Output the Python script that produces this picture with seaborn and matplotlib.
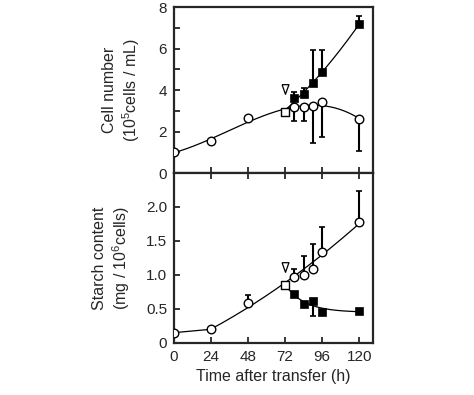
import numpy as np
import pandas as pd
import matplotlib
matplotlib.use("Agg")
import matplotlib.pyplot as plt
import seaborn as sns

# -------------------
# Data
hours = [0, 24, 48, 72, 78, 84, 90, 96, 120]

# Cell number (10^5 cells / mL), control (open circles; 72 h = open square)
cell_open = [1.0, 1.55, 2.65, 2.95, 3.17, 3.17, 3.25, 3.42, 2.6]
cell_open_err_lo = [0, 0, 0, 0, 0.65, 0.65, 1.82, 1.7, 1.52]

# Cell number after transfer (filled squares)
hours_fill = [78, 84, 90, 96, 120]
cell_fill = [3.6, 3.82, 4.35, 4.87, 7.18]
cell_fill_err_hi = [0.32, 0.26, 1.58, 1.06, 0.4]

# Starch content (mg / 10^6 cells)
starch_open = [0.15, 0.2, 0.59, 0.85, 0.97, 1.0, 1.08, 1.34, 1.78]
starch_open_err_hi = [0, 0, 0.11, 0, 0.11, 0.28, 0.38, 0.37, 0.46]
starch_fill = [0.72, 0.57, 0.61, 0.46, 0.47]
starch_fill_err_lo = [0, 0, 0.22, 0, 0]

transfer_time = 72
cell_arrow = 4.03
starch_arrow = 1.12

xticks = [0, 24, 48, 72, 96, 120]

# -------------------
# Fitted curves
t_all = np.linspace(0, 120, 300)
t_after = np.linspace(72, 120, 200)

c_open = np.polyval(np.polyfit(hours, cell_open, 3), t_all)
c_fill = np.polyval(np.polyfit([72] + hours_fill, [cell_open[3]] + cell_fill, 2), t_after)

# starch control: straight segment over the first day, then a weighted quadratic fit
t_seg1 = np.linspace(0, 24, 20)
t_seg2 = np.linspace(24, 120, 250)
s_seg1 = np.interp(t_seg1, hours[:2], starch_open[:2])
w = [10, 3, 3, 1, 1, 1, 1, 2]
s_seg2 = np.polyval(np.polyfit(hours[1:], starch_open[1:], 2, w=w), t_seg2)
t_s_open = np.concatenate([t_seg1, t_seg2[1:]])
s_open = np.concatenate([s_seg1, s_seg2[1:]])

# exponential decay to a plateau for starch after transfer
ts = np.array([72] + hours_fill, dtype=float)
ys = np.array([starch_open[3]] + starch_fill)
best = None
for k in np.linspace(0.01, 0.5, 200):
    A = np.column_stack([np.ones_like(ts), np.exp(-k * (ts - 72))])
    coef, res, *_ = np.linalg.lstsq(A, ys, rcond=None)
    err = np.sum((A @ coef - ys) ** 2)
    if best is None or err < best[0]:
        best = (err, k, coef)
_, k, coef = best
s_fill = coef[0] + coef[1] * np.exp(-k * (t_after - 72))

# -------------------
# Plot
sns.set_style("ticks")
plt.rcParams['font.family'] = ['Liberation Sans', 'DejaVu Sans']
plt.rcParams['font.size'] = 11
plt.rcParams['mathtext.fontset'] = 'custom'
plt.rcParams['mathtext.rm'] = 'Liberation Sans'

fig = plt.figure(figsize=(4.74, 3.95), dpi=100)
ax1 = fig.add_axes([0.367, 0.562, 0.42, 0.420])
ax2 = fig.add_axes([0.367, 0.132, 0.42, 0.430])

line_kw = dict(color="black", linewidth=0.9, legend=False, sort=False)
open_kw = dict(marker="o", s=38, facecolor="white", edgecolor="black", linewidth=1.0, zorder=4, legend=False)
fill_kw = dict(marker="s", s=36, color="black", edgecolor="black", zorder=4, legend=False)
sq_kw = dict(marker="s", s=32, facecolor="white", edgecolor="black", linewidth=1.0, zorder=4, legend=False)
tri_marker = [(-1, 1.4), (1, 1.4), (0, -1.4), (-1, 1.4)]
tri_kw = dict(marker=tri_marker, s=48, facecolor="white",
              edgecolor="black", linewidth=0.9, zorder=4, legend=False)

# top panel
sns.lineplot(x=t_all, y=c_open, ax=ax1, **line_kw)
sns.lineplot(x=t_after, y=c_fill, ax=ax1, **line_kw)
zero = [0] * len(hours)
ax1.errorbar(hours, cell_open, yerr=[cell_open_err_lo, zero], fmt="none",
             ecolor="black", elinewidth=1.5, capsize=2, capthick=1.2, zorder=3)
ax1.errorbar(hours_fill, cell_fill, yerr=[[0] * 5, cell_fill_err_hi], fmt="none",
             ecolor="black", elinewidth=1.5, capsize=2, capthick=1.2, zorder=3)
idx_c = [i for i in range(len(hours)) if hours[i] != transfer_time]
sns.scatterplot(x=[hours[i] for i in idx_c], y=[cell_open[i] for i in idx_c], ax=ax1, **open_kw)
sns.scatterplot(x=[transfer_time], y=[cell_open[3]], ax=ax1, **sq_kw)
sns.scatterplot(x=hours_fill, y=cell_fill, ax=ax1, **fill_kw)
sns.scatterplot(x=[transfer_time], y=[cell_arrow], ax=ax1, **tri_kw)

# bottom panel
sns.lineplot(x=t_s_open, y=s_open, ax=ax2, **line_kw)
sns.lineplot(x=t_after, y=s_fill, ax=ax2, **line_kw)
ax2.errorbar(hours, starch_open, yerr=[zero, starch_open_err_hi], fmt="none",
             ecolor="black", elinewidth=1.5, capsize=2, capthick=1.2, zorder=3)
ax2.errorbar(hours_fill, starch_fill, yerr=[starch_fill_err_lo, [0] * 5], fmt="none",
             ecolor="black", elinewidth=1.5, capsize=2, capthick=1.2, zorder=3)
sns.scatterplot(x=[hours[i] for i in idx_c], y=[starch_open[i] for i in idx_c], ax=ax2, **open_kw)
sns.scatterplot(x=[transfer_time], y=[starch_open[3]], ax=ax2, **sq_kw)
sns.scatterplot(x=hours_fill, y=starch_fill, ax=ax2, **fill_kw)
sns.scatterplot(x=[transfer_time], y=[starch_arrow], ax=ax2, **tri_kw)

# axes styling
for ax in (ax1, ax2):
    ax.set_xlim(0, 129)
    ax.set_xticks(xticks)
    for sp in ax.spines.values():
        sp.set_linewidth(1.6)
        sp.set_visible(True)
    ax.tick_params(direction="in", width=1.3, length=4, labelsize=11, pad=5)
    ax.tick_params(which="minor", direction="in", width=1.3, length=4)

ax1.set_ylim(0, 8)
ax1.set_yticks([0, 2, 4, 6, 8])
ax1.set_yticks([1, 3, 5, 7], minor=True)
ax1.tick_params(axis="x", labelbottom=False)
ax1.set_ylabel("Cell number\n(10$^5$cells / mL)", fontsize=11.5, labelpad=12)

ax2.set_ylim(0, 2.5)
ax2.set_yticks([0, 0.5, 1.0, 1.5, 2.0])
ax2.set_yticklabels(["0", "0.5", "1.0", "1.5", "2.0"])
ax2.tick_params(axis="x", top=True)
ax2.set_ylabel("Starch content\n(mg / 10$^6$cells)", fontsize=11.5, labelpad=10)
ax2.set_xlabel("Time after transfer (h)", fontsize=11.5, labelpad=4)

fig.savefig("out.png", dpi=100)
